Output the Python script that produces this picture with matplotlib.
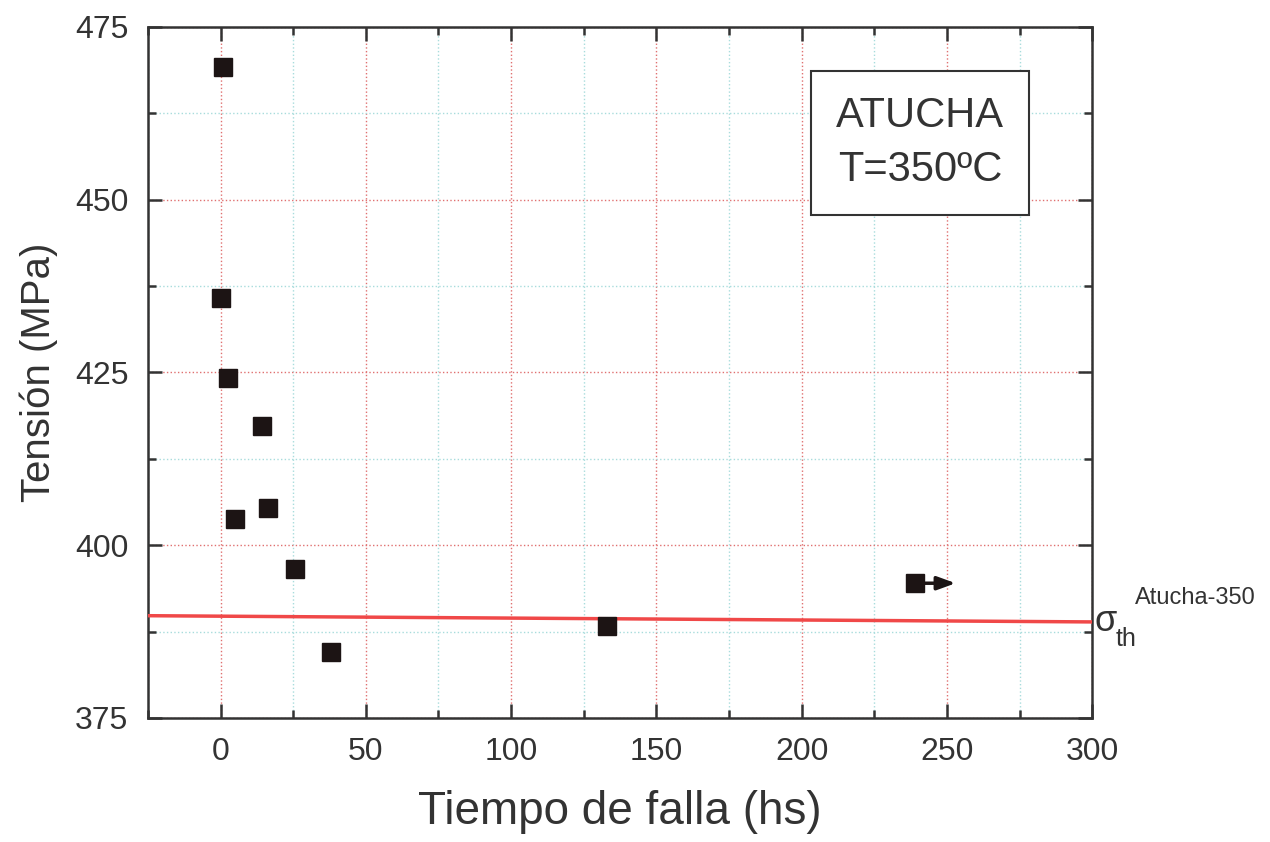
import matplotlib
matplotlib.use("Agg")
import matplotlib.pyplot as plt
from matplotlib.ticker import MultipleLocator

# data
tiempo = [1.0, 0.3, 2.7, 14.4, 4.8, 16.4, 25.7, 38.0, 132.9, 239.0]
tension = [469.2, 435.8, 424.2, 417.3, 403.8, 405.4, 396.6, 384.6, 388.3, 394.5]
sigma_x = [-25, 300]
sigma_y = [389.8, 388.9]
runout_x = [242.5, 253.0]
runout_y = 394.5

plt.rcParams['font.family'] = ['Liberation Sans', 'DejaVu Sans']

fig = plt.figure(figsize=(12.7, 8.42), dpi=100, facecolor='white')
ax = fig.add_axes([0.1165, 0.1473, 0.7435, 0.8207])

# grid
ax.xaxis.set_major_locator(MultipleLocator(50))
ax.xaxis.set_minor_locator(MultipleLocator(25))
ax.yaxis.set_major_locator(MultipleLocator(25))
ax.yaxis.set_minor_locator(MultipleLocator(12.5))
ax.grid(True, which='major', color='#e07070', linestyle=':', linewidth=1.0)
ax.grid(True, which='minor', color='#a8dcdc', linestyle=':', linewidth=1.0)
ax.set_axisbelow(True)

# threshold line
ax.plot(sigma_x, sigma_y, color='#f04848', linewidth=2.5, zorder=3)

# points
ax.plot(tiempo, tension, linestyle='none', marker='s', markersize=13,
        color='#1c1414', zorder=4)

# run-out arrow
ax.annotate('', xy=(runout_x[1], runout_y), xytext=(runout_x[0], runout_y),
            arrowprops=dict(arrowstyle='-|>,head_length=1.1,head_width=0.4',
                            color='#1c1414', lw=2.5, shrinkA=0, shrinkB=0),
            zorder=4)

ax.set_xlim(-25, 300)
ax.set_ylim(375, 475)

# ticks
ax.tick_params(which='both', direction='in', top=True, right=True,
               width=1.8, colors='#333333', labelsize=23, pad=14)
ax.tick_params(which='major', length=10)
ax.tick_params(which='minor', length=6)
for s in ax.spines.values():
    s.set_linewidth(1.8)
    s.set_color('#333333')

# labels
ax.set_xlabel("Tiempo de falla (hs)", fontsize=33, color='#333333', labelpad=16)
ax.set_ylabel("Tensión (MPa)", fontsize=29, color='#333333', labelpad=12)

# text box
ax.text(0.818, 0.832, "ATUCHA\nT=350ºC", transform=ax.transAxes,
        ha='center', va='center', fontsize=30, color='#333333',
        linespacing=1.45,
        bbox=dict(boxstyle='square,pad=0.6', facecolor='white',
                  edgecolor='#333333', linewidth=1.5), zorder=5)

# sigma label
ax.text(300.7, 388.9, "σ", fontsize=26, color='#333333', ha='left',
        va='center', clip_on=False)
ax.text(308.0, 386.4, "th", fontsize=18, color='#333333', ha='left',
        va='center', clip_on=False)
ax.text(314.7, 392.4, "Atucha-350", fontsize=17, color='#333333', ha='left',
        va='center', clip_on=False)

fig.savefig("out.png", dpi=100, facecolor='white')
